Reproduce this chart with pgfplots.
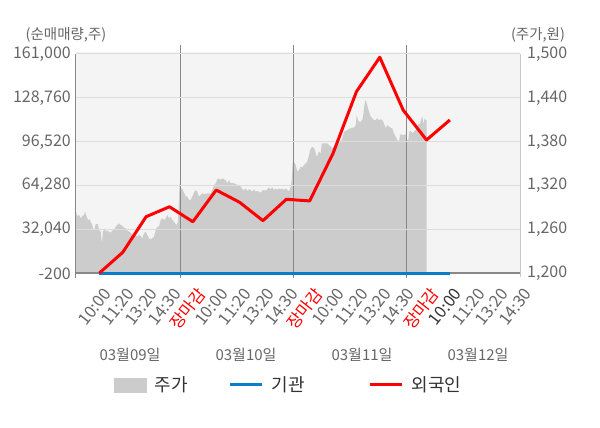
\documentclass[border=0pt]{standalone}
\usepackage{pgfplots}
\pgfplotsset{compat=1.18}
\usepackage{fontspec}
\setmainfont{Noto Sans CJK KR}
\definecolor{areagray}{HTML}{CCCCCC}
\definecolor{bggray}{HTML}{F4F4F4}
\definecolor{gridgray}{HTML}{DCDCDC}
\definecolor{axgray}{HTML}{888888}
\definecolor{rightax}{HTML}{C8C8C8}
\definecolor{txtgray}{HTML}{666666}
\definecolor{legtxt}{HTML}{333333}
\definecolor{instblue}{HTML}{0A7DCB}
\definecolor{frgred}{HTML}{FF0000}
\pgfplotstableread{
x y
0 1200
0 1284
1.3 1277.5
3 1279.8
4.7 1275.2
6.3 1278.4
8 1279.8
9 1284.3
10.7 1277.5
12 1272.9
13.7 1273.8
14.7 1270.6
16.3 1266.1
18 1257
19.7 1267.4
22 1267.4
23 1259.2
24.7 1257
26 1241
27 1257
28.7 1261.5
30 1257
31.3 1258.3
33 1257
34.7 1255.6
36.3 1258.3
38 1259.2
39.7 1263.8
41.3 1266.1
43 1268.4
44.7 1266.1
46.3 1264.7
48 1262.4
49.7 1261.5
51.3 1258.3
53 1257
54.7 1255.6
56.3 1252.4
58 1252.4
59.7 1252.4
61.3 1250.1
63 1252.4
64.7 1251
66.3 1247.8
68 1254.7
69.7 1257
71.3 1252.4
73 1247.8
74.7 1246.9
76.3 1247.8
78 1250.1
79.7 1259.2
81.3 1263.8
83 1263.8
84.7 1272.9
86.3 1275.2
88 1272.9
89.7 1275.2
91.3 1279.8
93 1275.2
94.7 1277.5
96.3 1272.9
98 1270.6
99 1268.4
100.7 1266.1
102 1270.6
103 1300
103.5 1323
104.7 1316
106.3 1316
108 1310
109.7 1305
111.3 1304.8
113 1300.3
114.7 1300.3
116.3 1304.8
118 1310.5
119.7 1313.9
121.3 1311.6
123 1304.8
124.7 1307.1
126.3 1309.4
128 1308.4
131.3 1309.4
134.7 1309.4
136.3 1313.9
138 1320.8
139.7 1323
141.3 1328.5
143 1329.9
144.7 1327.6
146.3 1329.9
148 1328.5
149.7 1327.6
151.3 1323
153 1327.6
154.7 1323
156.3 1323.9
158 1323
159.7 1322.1
161.3 1320.8
163 1320.8
164.7 1318.5
166.3 1314.8
168 1313.9
169.7 1316.2
171.3 1312.6
173 1314.8
174.7 1313.9
176.3 1311.6
178 1314.8
179.7 1311.6
181.3 1312.6
183 1311.6
184.7 1310.3
186.3 1313
188 1313.9
189.7 1313
191.3 1314.8
193 1317.6
194.7 1314.8
196.3 1317.6
198 1313.9
199.7 1316.2
201.3 1313.9
203 1316.2
204.7 1314.8
206.3 1316.2
208 1313.9
209.7 1316.2
211.3 1313.9
213 1311.6
214.7 1318.5
215.7 1327.6
216.7 1350.4
218 1352.7
219.7 1348.1
221.3 1339
223 1341.3
224.7 1345.8
226.3 1344.9
228 1348.1
229.7 1350.4
231.3 1352.7
233 1361.8
234.7 1370.9
236.3 1373.2
238 1371
239 1368.7
240 1361.8
241.3 1359.6
242 1364.1
243 1366.4
244.7 1364.1
245.7 1377.8
248 1377.8
251.3 1377.8
253 1375.5
254.7 1373.2
256.3 1371
258 1373.2
259.7 1375.5
261.3 1375.5
263 1377.8
264.7 1380.1
266.3 1384.6
268 1393.8
269.7 1394.7
271.3 1396
273 1397.4
274.7 1398.3
276.3 1399.2
278 1399.2
279.7 1402.9
280.7 1416.6
282 1409.7
283 1407.4
284.7 1407.4
286.3 1409.7
287.3 1416.6
288 1425.7
289 1434.8
289.7 1437.1
290.7 1432.5
292 1425.7
293 1421.1
294.7 1414.3
296.3 1412
298 1409.7
299.7 1409.7
301.3 1412
303 1409.7
304.7 1410.6
306.3 1409.7
308 1405.2
309.7 1398.3
311.3 1402.9
313 1400.6
314.7 1399.2
316.3 1398.3
318 1391.5
319.7 1386.9
321.3 1382.4
323 1380.1
324 1389.2
325.3 1390.1
327.3 1389.2
329.7 1390.1
330.7 1382.4
332.3 1382.4
333.3 1393.8
334.7 1394.7
336.3 1391.5
338 1393.8
339.7 1396
341.3 1400.6
343 1405.2
344 1403.8
345.3 1412
346.3 1414.3
347.3 1403.8
348.7 1412
349.7 1409.7
350.7 1409.7
350.7 1200
}\pricetable
\pgfplotstableread{
k v
0 0
1 15200
2 41400
3 48700
4 37700
5 61000
6 52000
7 38500
8 54200
9 53000
10 88000
11 133300
12 158600
13 119800
14 97800
15 112500
}\foreigntable
\pgfplotstableread{
k v
0 0
1 0
2 0
3 0
4 0
5 0
6 0
7 0
8 0
9 0
10 0
11 0
12 0
13 0
14 0
15 0
}\insttable
\newcommand\tfont{\fontsize{16bp}{18bp}\selectfont}
\newcommand\xtfont{\fontsize{16.5bp}{18bp}\selectfont}
\begin{document}
\begin{tikzpicture}
% price axis (right)
\begin{axis}[
  scale only axis, width=444bp, height=219.3bp,
  xmin=0, xmax=444, ymin=1200, ymax=1500,
  clip=false, axis on top,
  axis x line=none, axis y line*=right,
  axis line style={-},
  y axis line style={draw=rightax, line width=1bp, shorten <=-4bp},
  major tick length=0pt,
  ytick={1200,1260,1320,1380,1440,1500},
  ymajorgrids, grid style={draw=gridgray, line width=1bp},
  yticklabel={\pgfmathprintnumber[fixed,precision=0,1000 sep={,},assume math mode=true]{\tick}},
  yticklabel style={font=\tfont, text=txtgray, anchor=west, inner sep=0pt, xshift=7bp},
]
\fill[bggray] (rel axis cs:0,0) rectangle (rel axis cs:1,1.009);
\addplot[fill=areagray, draw=none] table[x=x, y=y] {\pricetable};
\draw[axgray, line width=1bp] (axis cs:104,1193.6) -- (axis cs:104,1512.3);
\draw[axgray, line width=1bp] (axis cs:217.3,1193.6) -- (axis cs:217.3,1512.3);
\draw[axgray, line width=1bp] (axis cs:330.7,1193.6) -- (axis cs:330.7,1512.3);
\end{axis}
% flows axis (left)
\begin{axis}[
  scale only axis, width=444bp, height=219.3bp,
  xmin=-1, xmax=18, ymin=-200, ymax=161000,
  clip=false,
  axis x line*=bottom, axis y line*=left,
  axis line style={-},
  x axis line style={draw=axgray, line width=2bp},
  y axis line style={draw=axgray, line width=1bp, shorten <=-5bp},
  major tick length=0pt,
  xtick={0,...,18},
  xticklabels={10:00,11:20,13:20,14:30,\textcolor{frgred}{장마감},10:00,11:20,13:20,14:30,\textcolor{frgred}{장마감},10:00,11:20,13:20,14:30,\textcolor{frgred}{장마감},\textcolor{legtxt}{10:00},11:20,13:20,14:30},
  xticklabel style={font=\xtfont, text=txtgray, xshift=3bp, yshift=-13bp, rotate=52, anchor=north east, inner sep=0pt},
  ytick={-200,32040,64280,96520,128760,161000},
  scaled y ticks=false,
  yticklabel={\pgfmathprintnumber[fixed,precision=0,1000 sep={,},assume math mode=true]{\tick}},
  yticklabel style={font=\tfont, text=txtgray, anchor=east, inner sep=0pt, xshift=-5bp},
  legend columns=3,
  legend cell align=left,
  legend style={at={(axis description cs:0.0856,-0.509)}, anchor=west, draw=none, fill=none, inner sep=0pt,
    font=\fontsize{18bp}{20bp}\selectfont, column sep=6bp,
    /tikz/column 2/.style={column sep=39bp}, /tikz/column 4/.style={column sep=62bp}},
]
\addlegendimage{legend image code/.code={\fill[areagray] (0bp,-7bp) rectangle (32bp,7bp);}}
\addlegendentry{\textcolor{legtxt}{주가}}
\addplot[instblue, line width=3bp, legend image code/.code={\draw[instblue, line width=3bp] (0bp,0bp) -- (32bp,0bp);}] table[x=k, y=v] {\insttable};
\addlegendentry{\textcolor{legtxt}{기관}}
\addplot[frgred, line width=3bp, line join=round, legend image code/.code={\draw[frgred, line width=3bp] (0bp,0bp) -- (32bp,0bp);}] table[x=k, y=v] {\foreigntable};
\addlegendentry{\textcolor{legtxt}{외국인}}
\end{axis}
\node[font=\fontsize{14.5bp}{16bp}\selectfont, text=txtgray] at (-10bp,238.3bp) {(순매매량,주)};
\node[font=\fontsize{14.5bp}{16bp}\selectfont, text=txtgray] at (462bp,238.3bp) {(주가,원)};
\node[font=\fontsize{15bp}{17bp}\selectfont, text=txtgray] at (54bp,-81.7bp) {03월09일};
\node[font=\fontsize{15bp}{17bp}\selectfont, text=txtgray] at (170bp,-81.7bp) {03월10일};
\node[font=\fontsize{15bp}{17bp}\selectfont, text=txtgray] at (286bp,-81.7bp) {03월11일};
\node[font=\fontsize{15bp}{17bp}\selectfont, text=txtgray] at (402bp,-81.7bp) {03월12일};
\pgfresetboundingbox
\path[use as bounding box] (-76bp,-154.7bp) rectangle (524bp,273.3bp);
\end{tikzpicture}
\end{document}
